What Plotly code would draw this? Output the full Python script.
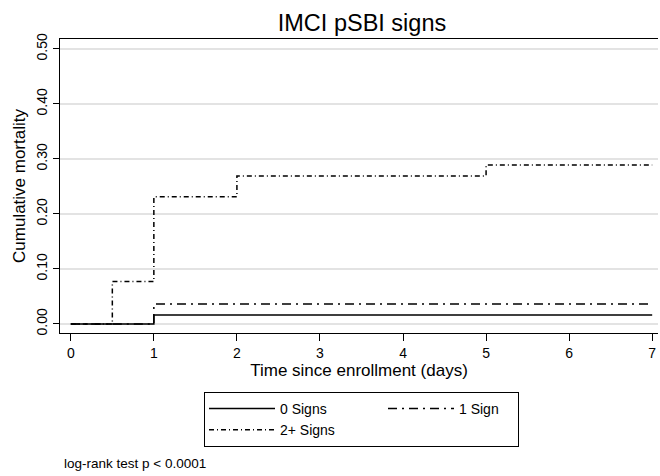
import plotly.graph_objects as go

title = "IMCI pSBI signs"
series_names = ["0 Signs", "1 Sign", "2+ Signs"]
t0 = [0, 1, 7]
s0 = [0.0, 0.016, 0.016]
t1 = [0, 1, 7]
s1 = [0.0, 0.036, 0.036]
t2 = [0, 0.5, 1, 2, 5, 7]
s2 = [0.0, 0.077, 0.231, 0.269, 0.289, 0.289]
yticks = [0.0, 0.1, 0.2, 0.3, 0.4, 0.5]
ytick_labels = ["0.00", "0.10", "0.20", "0.30", "0.40", "0.50"]
xticks = [0, 1, 2, 3, 4, 5, 6, 7]

font = "Liberation Sans, Arial, sans-serif"
fig = go.Figure()
fig.add_trace(go.Scatter(x=t0, y=s0, name=series_names[0], mode="lines", legendgroup="c1",
                         line=dict(shape="hv", color="black", width=1.5, dash="solid")))
fig.add_trace(go.Scatter(x=t1, y=s1, name=series_names[1], mode="lines", legendgroup="c2",
                         legendwidth=54,
                         line=dict(shape="hv", color="black", width=1.5, dash="9px,5px,2px,5px")))
fig.add_trace(go.Scatter(x=t2, y=s2, name=series_names[2], mode="lines", legendgroup="c1",
                         line=dict(shape="hv", color="black", width=1.5, dash="5px,3px,1px,3px")))

fig.update_layout(
    width=660, height=476,
    margin=dict(l=60, r=2, t=39, b=143),
    paper_bgcolor="white", plot_bgcolor="white",
    font=dict(family=font, size=14, color="black"),
    title=dict(text=title, x=(362) / 660, xanchor="center", y=1 - 23 / 476, yanchor="middle",
               font=dict(size=23.5, color="black")),
    showlegend=True,
    legend=dict(orientation="h", xref="paper", yref="paper",
                x=(361.5 - 60) / 598, xanchor="center", y=(333 - 392) / 294, yanchor="top",
                bordercolor="black", borderwidth=1, bgcolor="white",
                itemwidth=66, entrywidth=98, entrywidthmode="pixels", tracegroupgap=24,
                font=dict(size=14), traceorder="grouped"),
    xaxis=dict(range=[-0.13, 7.07], tickvals=xticks, ticks="outside", ticklen=7, tickwidth=1,
               tickcolor="black", showline=True, mirror=True, linecolor="black", linewidth=1,
               showgrid=False, zeroline=False,
               title=dict(text="Time since enrollment (days)", standoff=2),
               tickfont=dict(size=14)),
    yaxis=dict(range=[-0.0165, 0.518], tickvals=yticks, ticktext=ytick_labels, tickangle=-90,
               ticks="outside", ticklen=6, tickwidth=1, tickcolor="black", showline=True,
               linecolor="black", linewidth=1, showgrid=True, gridcolor="#e3e3e3", gridwidth=1.5,
               zeroline=False, title=dict(text="Cumulative mortality", standoff=4),
               tickfont=dict(size=14)),
    annotations=[dict(text="log-rank test p < 0.0001", xref="paper", yref="paper",
                      x=(62 - 60) / 598, xanchor="left", y=(333 - 463) / 294, yanchor="middle",
                      showarrow=False, font=dict(size=13.5, color="black"))],
)
fig.write_html("out.html")
